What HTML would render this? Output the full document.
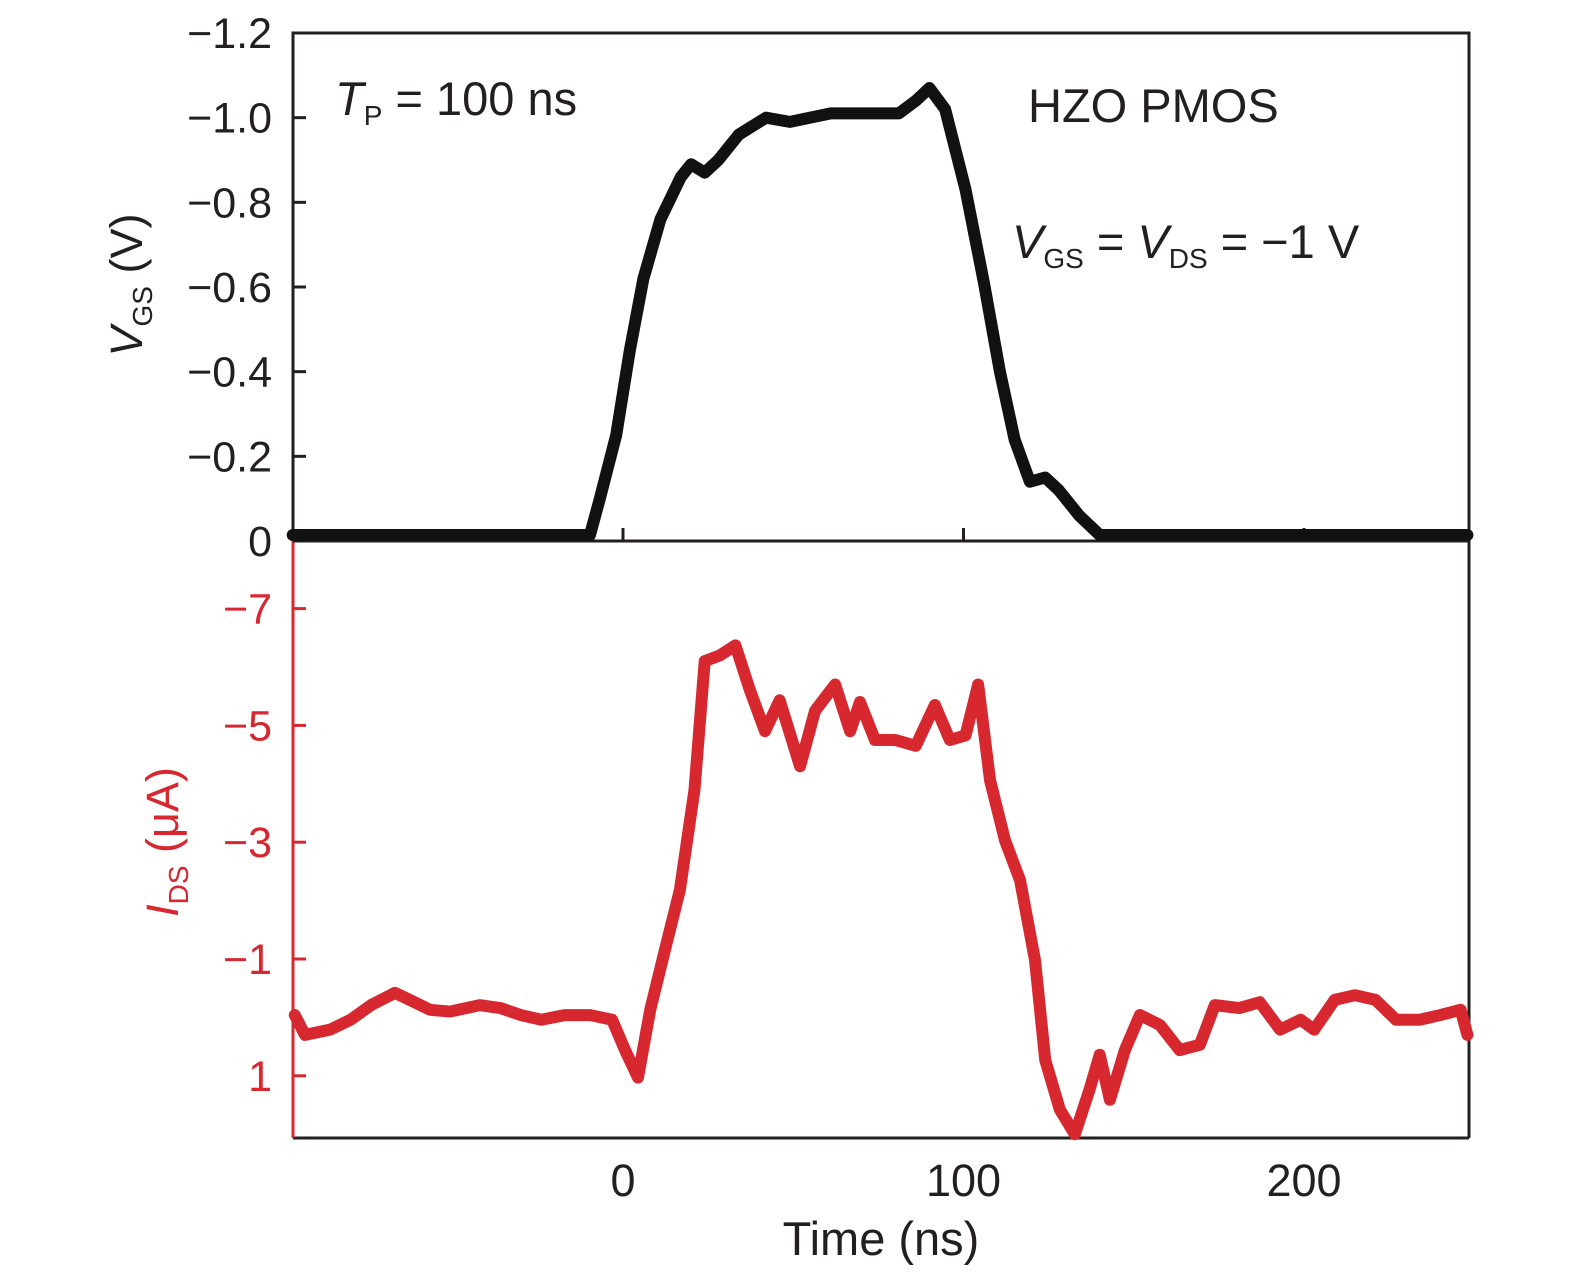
<!DOCTYPE html>
<html><head><meta charset="utf-8"><style>
html,body{margin:0;background:#fff;overflow:hidden;width:1575px;height:1280px}
svg{display:block;font-family:"Liberation Sans",sans-serif}
</style></head><body>
<svg id="c" width="1575" height="1280" viewBox="0 0 1575 1280">
<g id="g"></g>
<text x="335" y="115" font-size="47" fill="#231f20"><tspan font-style="italic">T</tspan><tspan font-size="28" dy="10">P</tspan><tspan dy="-10"> = 100 ns</tspan></text>
<text x="1028" y="122" font-size="47" fill="#231f20">HZO PMOS</text>
<text x="1012" y="258" font-size="47" fill="#231f20"><tspan font-style="italic">V</tspan><tspan font-size="28" dy="10">GS</tspan><tspan dy="-10"> = </tspan><tspan font-style="italic">V</tspan><tspan font-size="28" dy="10">DS</tspan><tspan dy="-10"> = −1 V</tspan></text>
<text transform="translate(142,285) rotate(-90)" text-anchor="middle" font-size="45" fill="#231f20"><tspan font-style="italic">V</tspan><tspan font-size="28" dy="10">GS</tspan><tspan dy="-10"> (V)</tspan></text>
<text transform="translate(178,842) rotate(-90)" text-anchor="middle" font-size="45" fill="#d7282f"><tspan font-style="italic">I</tspan><tspan font-size="28" dy="10">DS</tspan><tspan dy="-10"> (μA)</tspan></text>
<text x="881" y="1255" text-anchor="middle" font-size="47" fill="#231f20">Time (ns)</text>
</svg>
<script>
const vTime=[-97,-20,-16,-9.7,-6.8,-2,2,6,11,17,20,24,28,34,42,49,61,81,86,90,94.6,100.6,106,110.7,115,119.5,124,128,134,140,146,248];
const vVals=[0,0,-0.01,0,-0.1,-0.25,-0.45,-0.62,-0.76,-0.86,-0.89,-0.87,-0.9,-0.96,-1.0,-0.99,-1.01,-1.01,-1.04,-1.07,-1.02,-0.83,-0.61,-0.4,-0.24,-0.14,-0.15,-0.12,-0.06,-0.01,0,0];
const iTime=[-96.4,-93.4,-86,-80,-74,-67,-62.6,-56.7,-50.8,-42,-36,-30,-24,-17,-9.7,-3.2,0.6,4.4,8,12.3,16.7,21,24,28.5,33,37.3,41.7,46,52,56.4,62.3,66.7,69.6,74,80,86,91.6,96,100.6,104.3,107.8,112.2,116.6,121,124,128.3,132.7,137,140,143,147.4,151.8,157.7,163.5,169.4,173.8,181,187,193,199,203,209,215,221,227,234,240,246,248];
const iVals=[-0.04,0.3,0.21,0.04,-0.21,-0.42,-0.3,-0.13,-0.1,-0.21,-0.16,-0.04,0.04,-0.04,-0.04,0.04,0.56,1.03,-0.13,-1.15,-2.18,-3.9,-6.1,-6.2,-6.37,-5.6,-4.9,-5.43,-4.3,-5.25,-5.7,-4.9,-5.4,-4.75,-4.75,-4.65,-5.35,-4.75,-4.83,-5.7,-4.06,-3.03,-2.35,-0.98,0.73,1.58,2.0,1.24,0.64,1.41,0.56,-0.04,0.13,0.56,0.47,-0.21,-0.16,-0.26,0.21,0.04,0.21,-0.3,-0.38,-0.3,0.04,0.04,-0.04,-0.13,0.3];
const xTicks=[0,100,200];
const vTicks=[-1.2,-1.0,-0.8,-0.6,-0.4,-0.2,0];
const vTickLabels=["−1.2","−1.0","−0.8","−0.6","−0.4","−0.2","0"];
const iTicks=[-7,-5,-3,-1,1];
const iTickLabels=["−7","−5","−3","−1","1"];
const L=293,R=1469,T=33,M=541,B=1138;
const xs=t=>623+t*3.405;
const yVt=v=>541+(v/1.2)*508;
const yI=i=>959+(i+1)*58.4;
const NS="http://www.w3.org/2000/svg",g=document.getElementById('g');
function el(tag,a){const e=document.createElementNS(NS,tag);for(const k in a)e.setAttribute(k,a[k]);g.appendChild(e);return e;}
let e=el('path',{d:`M${L},${M}V${T}H${R}V${B}`,fill:'none',stroke:'#231f20','stroke-width':3});

e=el('line',{x1:L,y1:M,x2:R,y2:M,stroke:'#231f20','stroke-width':3});

e=el('line',{x1:L,y1:B,x2:R,y2:B,stroke:'#231f20','stroke-width':3});

e=el('line',{x1:L,y1:M,x2:L,y2:B,stroke:'#d7282f','stroke-width':3});

xTicks.forEach(t=>{
 let a=el('line',{x1:xs(t),y1:M,x2:xs(t),y2:M-13,stroke:'#231f20','stroke-width':3});
 
 let b=el('text',{x:xs(t),y:1196,'text-anchor':'middle','font-size':45,fill:'#231f20'});b.textContent=t;
 
});
vTicks.forEach((v,k)=>{
 let a=el('line',{x1:L,y1:yVt(v),x2:L+13,y2:yVt(v),stroke:'#231f20','stroke-width':3});
 
 let b=el('text',{x:272,y:yVt(v)+15,'text-anchor':'end','font-size':43,fill:'#231f20'});b.textContent=vTickLabels[k];
 
});
iTicks.forEach((v,k)=>{
 let a=el('line',{x1:L,y1:yI(v),x2:L+13,y2:yI(v),stroke:'#d7282f','stroke-width':3});
 
 let b=el('text',{x:272,y:yI(v)+15,'text-anchor':'end','font-size':43,fill:'#d7282f'});b.textContent=iTickLabels[k];
 
});
e=el('polyline',{points:vTime.map((t,k)=>xs(t)+','+Math.min(yVt(vVals[k]),535)).join(' '),fill:'none',stroke:'#111','stroke-width':12,'stroke-linejoin':'round','stroke-linecap':'round'});

e=el('polyline',{points:iTime.map((t,k)=>xs(t)+','+yI(iVals[k])).join(' '),fill:'none',stroke:'#d7282f','stroke-width':12,'stroke-linejoin':'round','stroke-linecap':'round'});

</script>
</body></html>
